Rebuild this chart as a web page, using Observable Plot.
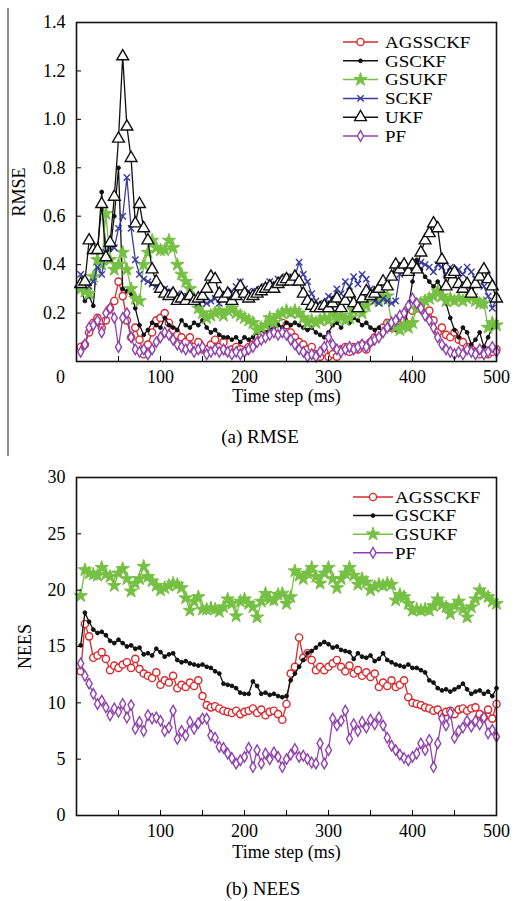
<!DOCTYPE html>
<html><head><meta charset="utf-8">
<script src="https://cdn.jsdelivr.net/npm/d3@7"></script>
<script src="https://cdn.jsdelivr.net/npm/@observablehq/plot@0.6"></script>
<style>
body{margin:0;background:#fff;width:514px;height:901px;position:relative;overflow:hidden;font-family:"Liberation Serif","Times New Roman",serif;}
.abs{position:absolute;}
.cap{position:absolute;font-size:19px;color:#000;white-space:nowrap;transform:translateX(-50%);line-height:1;}
</style></head><body>
<div class="abs" style="left:7px;top:8px;width:2px;height:448px;background:#8a8a8a"></div>
<div id="pa" class="abs" style="left:0;top:0"></div>
<div id="pb" class="abs" style="left:0;top:455px"></div>
<div class="cap" style="left:260px;top:427px">(a) RMSE</div>
<div class="cap" style="left:263px;top:879px">(b) NEES</div>
<script>
// ---------- data ----------
const timeSteps = [5,10,15,20,25,30,35,40,45,50,55,60,65,70,75,80,85,90,95,100,
105,110,115,120,125,130,135,140,145,150,155,160,165,170,175,180,185,190,195,200,
205,210,215,220,225,230,235,240,245,250,255,260,265,270,275,280,285,290,295,300,
305,310,315,320,325,330,335,340,345,350,355,360,365,370,375,380,385,390,395,400,
405,410,415,420,425,430,435,440,445,450,455,460,465,470,475,480,485,490,495,500];

const seriesNamesA = ["AGSSCKF","GSCKF","GSUKF","SCKF","UKF","PF"];
const seriesNamesB = ["AGSSCKF","GSCKF","GSUKF","PF"];

// (a) RMSE
const rmseAGSSCKF = [0.06,0.07,0.12,0.16,0.18,0.14,0.17,0.22,0.25,0.33, 0.27,0.17,0.10,0.14,0.09,0.03,0.07,0.12,0.17,0.18,
0.20,0.16,0.13,0.11,0.10,0.08,0.10,0.06,0.08,0.05, 0.05,0.07,0.09,0.06,0.08,0.04,0.05,0.06,0.05,0.04,
0.06,0.07,0.10,0.11,0.13,0.15,0.16,0.14,0.16,0.15, 0.12,0.10,0.08,0.07,0.05,0.06,0.03,0.02,0.04,0.02,
0.03,0.02,0.05,0.06,0.04,0.06,0.05,0.07,0.05,0.08, 0.10,0.12,0.14,0.16,0.14,0.16,0.15,0.17,0.22,0.21,
0.22,0.23,0.20,0.21,0.17,0.12,0.14,0.11,0.10,0.12, 0.09,0.08,0.06,0.05,0.04,0.03,0.05,0.03,0.04,0.05];
const rmseGSCKF = [0.30,0.25,0.27,0.23,0.45,0.70,0.45,0.46,0.60,0.80, 0.30,0.29,0.28,0.22,0.15,0.11,0.13,0.16,0.15,0.14,
0.18,0.15,0.14,0.13,0.17,0.15,0.14,0.16,0.15,0.17, 0.14,0.12,0.13,0.11,0.10,0.10,0.09,0.10,0.08,0.10,
0.09,0.10,0.12,0.13,0.12,0.14,0.13,0.15,0.14,0.16, 0.15,0.16,0.15,0.14,0.13,0.14,0.12,0.11,0.10,0.12,
0.15,0.16,0.14,0.17,0.16,0.18,0.17,0.15,0.16,0.14, 0.13,0.14,0.12,0.13,0.14,0.13,0.15,0.14,0.22,0.33,
0.42,0.38,0.35,0.33,0.31,0.33,0.30,0.24,0.18,0.13, 0.10,0.14,0.12,0.07,0.09,0.12,0.06,0.10,0.14,0.15];
const rmseGSUKF = [0.30,0.29,0.28,0.35,0.42,0.40,0.61,0.42,0.38,0.40, 0.45,0.38,0.30,0.26,0.25,0.40,0.45,0.50,0.47,0.46,
0.46,0.50,0.47,0.40,0.36,0.33,0.30,0.26,0.22,0.20, 0.18,0.19,0.20,0.21,0.19,0.21,0.22,0.20,0.19,0.18,
0.17,0.16,0.13,0.14,0.15,0.18,0.16,0.19,0.20,0.21, 0.20,0.21,0.20,0.18,0.16,0.17,0.16,0.17,0.18,0.17,
0.20,0.18,0.19,0.17,0.18,0.21,0.22,0.20,0.23,0.26, 0.27,0.25,0.26,0.27,0.16,0.14,0.13,0.15,0.14,0.16,
0.22,0.24,0.25,0.26,0.27,0.29,0.27,0.25,0.26,0.25, 0.26,0.25,0.26,0.27,0.25,0.24,0.24,0.14,0.16,0.15];
const rmseSCKF = [0.36,0.33,0.31,0.33,0.39,0.36,0.45,0.48,0.47,0.55, 0.60,0.76,0.55,0.42,0.36,0.34,0.33,0.32,0.31,0.30,
0.30,0.29,0.28,0.28,0.27,0.26,0.27,0.25,0.24,0.25, 0.24,0.25,0.26,0.24,0.27,0.26,0.29,0.31,0.33,0.30,
0.29,0.27,0.29,0.30,0.31,0.33,0.32,0.34,0.33,0.35, 0.33,0.35,0.41,0.36,0.33,0.28,0.25,0.23,0.24,0.27,
0.26,0.30,0.28,0.33,0.31,0.35,0.32,0.36,0.34,0.30, 0.25,0.24,0.26,0.25,0.24,0.25,0.36,0.38,0.37,0.39,
0.38,0.41,0.40,0.39,0.37,0.40,0.39,0.36,0.39,0.37, 0.38,0.36,0.39,0.37,0.34,0.35,0.31,0.27,0.22,0.26];
const rmseUKF = [0.32,0.33,0.50,0.46,0.46,0.65,0.43,0.49,0.68,0.92, 1.26,0.97,0.84,0.57,0.65,0.55,0.50,0.38,0.33,0.30,
0.28,0.27,0.28,0.25,0.26,0.25,0.27,0.25,0.26,0.27, 0.30,0.35,0.34,0.28,0.26,0.28,0.25,0.27,0.31,0.28,
0.26,0.27,0.28,0.29,0.30,0.31,0.30,0.32,0.33,0.34, 0.33,0.35,0.33,0.28,0.25,0.23,0.22,0.22,0.23,0.22,
0.24,0.26,0.22,0.25,0.28,0.24,0.22,0.26,0.29,0.27, 0.28,0.30,0.33,0.31,0.35,0.40,0.38,0.40,0.37,0.40,
0.38,0.45,0.50,0.53,0.57,0.55,0.42,0.31,0.36,0.37, 0.32,0.30,0.32,0.28,0.32,0.35,0.38,0.34,0.31,0.26];
const rmsePF = [0.04,0.07,0.14,0.15,0.17,0.12,0.20,0.22,0.18,0.06, 0.18,0.20,0.10,0.05,0.04,0.05,0.03,0.05,0.08,0.10,
0.12,0.11,0.09,0.07,0.06,0.05,0.06,0.04,0.05,0.06, 0.03,0.04,0.05,0.04,0.05,0.04,0.03,0.04,0.03,0.04,
0.05,0.06,0.08,0.09,0.10,0.11,0.12,0.11,0.12,0.11, 0.09,0.07,0.05,0.04,0.02,0.03,0.02,0.04,0.06,0.10,
0.07,0.05,0.04,0.05,0.06,0.05,0.06,0.07,0.06,0.08, 0.09,0.10,0.12,0.14,0.16,0.17,0.19,0.20,0.23,0.26,
0.24,0.22,0.19,0.17,0.14,0.10,0.07,0.05,0.04,0.03, 0.04,0.03,0.05,0.04,0.03,0.05,0.03,0.04,0.06,0.04];

// (b) NEES
const neesAGSSCKF = [12.8,17.0,15.9,14.0,14.2,14.5,13.9,12.9,13.3,13.1, 13.4,13.6,13.1,13.9,13.0,12.6,12.4,12.2,12.7,11.6,
12.0,11.8,12.4,11.3,11.6,11.4,11.8,11.5,12.0,10.6, 9.8,9.6,9.7,9.5,9.3,9.2,9.1,9.3,9.0,9.2,
9.3,9.5,9.1,9.4,8.9,9.2,9.3,9.0,8.5,9.9, 12.6,13.2,15.8,14.0,14.4,13.8,12.9,13.2,12.9,13.2,
13.5,13.8,13.2,12.8,13.3,12.6,12.9,12.4,12.7,12.3, 12.6,11.4,11.8,11.5,12.0,11.4,11.6,12.0,10.5,10.0,
9.9,9.8,9.6,9.5,9.3,9.4,9.0,9.2,9.3,9.0, 9.4,9.5,9.3,9.5,9.6,9.0,8.7,9.4,8.6,9.9];
const neesGSCKF = [15.1,18.0,17.2,16.5,16.2,16.3,16.0,15.5,15.3,15.6, 15.3,15.0,15.1,14.8,14.9,14.3,14.4,14.2,14.8,14.5,
14.1,14.3,14.4,13.8,13.6,13.7,13.5,13.4,13.3,13.4, 13.2,13.1,12.8,12.6,11.7,11.6,11.5,11.3,10.9,10.8,
10.8,11.9,11.5,10.8,10.9,10.7,10.8,10.6,10.5,10.6, 12.0,12.6,13.2,13.8,14.4,14.6,14.9,15.2,15.4,15.2,
14.9,15.0,14.7,14.6,14.5,13.9,14.4,14.1,14.0,14.2, 13.7,13.9,14.4,13.8,13.6,13.4,13.3,13.2,13.4,13.1,
13.1,12.9,12.7,12.0,11.8,11.3,11.1,11.2,11.0,11.2, 11.4,11.7,11.2,10.8,11.0,11.1,10.8,11.0,10.6,11.3];
const neesGSUKF = [19.5,21.8,21.5,21.4,21.3,22.0,21.4,21.2,20.4,21.5, 21.9,21.0,19.9,20.6,21.0,22.1,21.2,20.8,20.4,20.0,
20.2,20.4,20.6,20.5,20.2,19.3,18.2,19.0,19.4,18.3, 18.3,18.4,18.3,18.1,18.5,19.2,18.8,17.7,19.0,19.2,
18.8,18.5,17.6,19.0,19.7,19.2,19.1,19.6,19.7,18.8, 19.4,21.7,21.3,21.0,21.5,22.0,21.2,20.6,21.5,22.0,
21.0,20.2,21.0,21.5,22.0,21.3,20.5,21.0,20.7,20.0, 20.3,20.5,20.4,20.6,20.5,19.1,19.6,19.4,18.8,18.2,
18.3,18.2,18.3,18.2,18.6,19.2,18.7,18.5,17.9,18.6, 19.0,18.3,17.6,18.5,19.2,20.0,19.6,19.4,19.0,18.8];
const neesPF = [13.5,12.4,11.7,10.8,9.9,10.2,9.6,8.9,9.5,9.2, 9.9,8.7,9.8,7.7,8.3,7.5,8.9,8.6,8.7,8.4,
7.5,7.8,9.3,6.8,7.5,7.1,8.3,7.7,8.2,8.6, 8.6,7.1,6.9,6.1,6.0,5.5,5.1,4.6,4.9,5.2,
6.0,4.3,5.8,4.6,5.5,5.0,5.6,5.2,4.3,5.0, 5.4,5.9,5.2,5.3,5.0,4.7,4.6,6.4,4.6,5.8,
8.6,8.0,8.4,9.3,6.8,8.1,7.5,8.3,7.8,8.5, 8.1,8.7,8.0,6.9,6.2,5.8,5.4,5.1,4.9,5.2,
5.5,6.4,5.8,6.7,4.3,6.4,8.6,8.0,9.1,6.9, 7.5,7.8,8.4,7.9,8.4,8.1,8.7,7.3,7.6,7.0];

const xLabelTicksA = [100,200,300,400,500];
const xMinorTicks = [50,100,150,200,250,300,350,400,450];
const yTicksA = [0.2,0.4,0.6,0.8,1.0,1.2,1.4];
const yTicksB = [0,5,10,15,20,25,30];

// ---------- styles ----------
const styles = {
  AGSSCKF: {color:"#d8282c", symbol:"circle", r:3.6, fill:"white", sw:1.4},
  GSCKF:   {color:"#111111", symbol:"circle", r:1.9, fill:"#111111", sw:1},
  GSUKF:   {color:"#76c043", symbol:"star", r:4.2, fill:"#76c043", sw:1},
  SCKF:    {color:"#3b3ba0", symbol:"times", r:3, fill:"none", sw:1.4},
  UKF:     {color:"#111111", symbol:"triangle", r:4.4, fill:"white", sw:1.4},
  PF:      {color:"#9042ac", symbol:"diamond", r:3.2, fill:"white", sw:1.4}
};
const dataA = {AGSSCKF: rmseAGSSCKF, GSCKF: rmseGSCKF, GSUKF: rmseGSUKF, SCKF: rmseSCKF, UKF: rmseUKF, PF: rmsePF};
const dataB = {AGSSCKF: neesAGSSCKF, GSCKF: neesGSCKF, GSUKF: neesGSUKF, PF: neesPF};

function seriesMarks(names, data) {
  const marks = [];
  for (const name of names) {
    const st = styles[name];
    const rows = timeSteps.map((t, i) => ({t, v: data[name][i]}));
    marks.push(Plot.line(rows, {x:"t", y:"v", stroke: st.color, strokeWidth: 1.3}));
    marks.push(Plot.dot(rows, {x:"t", y:"v", symbol: st.symbol, r: st.r, stroke: st.color, fill: st.fill, strokeWidth: st.sw}));
  }
  return marks;
}

const font = {fontFamily:"'Liberation Serif','Times New Roman',serif", fontSize:"18px", background:"transparent", color:"#000", overflow:"visible"};

const plotA = Plot.plot({
  width: 514, height: 420,
  marginLeft: 76, marginRight: 18, marginTop: 22, marginBottom: 59,
  style: font,
  x: {domain:[0,500]},
  y: {domain:[0,1.4]},
  marks: [
    ...seriesMarks(seriesNamesA, dataA),
    Plot.axisX({ticks: xMinorTicks, tickSize: 5, dy: -5, tickFormat: () => "", label: null}),
    Plot.axisY({ticks: yTicksA, tickSize: 5, dx: 5, tickFormat: () => "", label: null}),
    Plot.axisX({ticks: xLabelTicksA, tickSize: 0, tickPadding: 9, label: "Time step (ms)", labelAnchor: "center", labelOffset: 40, labelArrow: "none"}),
    Plot.axisX({ticks: [0], tickSize: 0, tickPadding: 9, dx: -16, label: null}),
    Plot.axisY({ticks: yTicksA, tickSize: 0, tickPadding: 11, tickFormat: d3.format(".1f"), label: "RMSE", labelAnchor: "center", labelOffset: 64, labelArrow: "none"}),
    Plot.frame({stroke:"#111", strokeWidth: 1.6})
  ]
});
document.getElementById("pa").appendChild(plotA);

const plotB = Plot.plot({
  width: 514, height: 410,
  marginLeft: 76, marginRight: 18, marginTop: 22, marginBottom: 50,
  style: font,
  x: {domain:[0,500]},
  y: {domain:[0,30]},
  marks: [
    ...seriesMarks(seriesNamesB, dataB),
    Plot.axisX({ticks: xMinorTicks, tickSize: 5, dy: -5, tickFormat: () => "", label: null}),
    Plot.axisY({ticks: yTicksB, tickSize: 5, dx: 5, tickFormat: () => "", label: null}),
    Plot.axisX({ticks: xLabelTicksA, tickSize: 0, tickPadding: 9, label: "Time step (ms)", labelAnchor: "center", labelOffset: 42, labelArrow: "none"}),
    Plot.axisY({ticks: yTicksB, tickSize: 0, tickPadding: 11, label: "NEES", labelAnchor: "center", labelOffset: 58, labelArrow: "none"}),
    Plot.frame({stroke:"#111", strokeWidth: 1.6})
  ]
});
document.getElementById("pb").appendChild(plotB);

// ---------- legends ----------
function legend(names, top, x0, x1, tx, step) {
  const svg = d3.select("body").append("svg")
    .style("left", "0px").style("top", top+"px")
    .attr("width", 514).attr("height", names.length*step + 10)
    .style("position","absolute").style("overflow","visible");
  const symMap = {circle:d3.symbolCircle, star:d3.symbolStar, times:d3.symbolTimes, triangle:d3.symbolTriangle, diamond:d3.symbolDiamond};
  names.forEach((name, i) => {
    const st = styles[name];
    const y = 8 + i*step;
    const g = svg.append("g");
    g.append("line").attr("x1", x0).attr("x2", x1).attr("y1", y).attr("y2", y).attr("stroke", st.color).attr("stroke-width", 1.5);
    g.append("path").attr("transform", `translate(${(x0+x1)/2},${y})`)
      .attr("d", d3.symbol(symMap[st.symbol], st.r*st.r*Math.PI)())
      .attr("stroke", st.color).attr("fill", st.fill).attr("stroke-width", st.sw);
    const t = g.append("text").attr("x", tx).attr("y", y).attr("dy", "0.35em")
      .attr("font-family", "'Liberation Serif','Times New Roman',serif").attr("font-size", 16.8)
      .text(name);
    const len = t.node().getComputedTextLength();
    t.attr("textLength", len * 1.13).attr("lengthAdjust", "spacingAndGlyphs");
  });
}
legend(seriesNamesA, 34, 343, 378, 385, 18.8);
legend(seriesNamesB, 489, 353, 393, 395, 18.6);
</script>
</body></html>
